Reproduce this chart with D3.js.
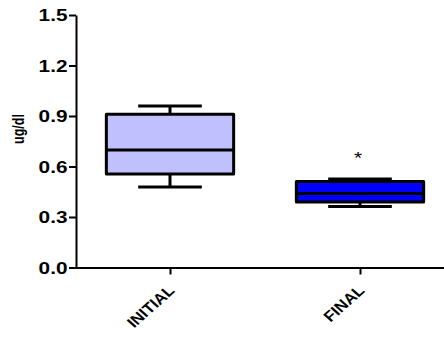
<!DOCTYPE html>
<html>
<head>
<meta charset="utf-8">
<script src="https://cdn.jsdelivr.net/npm/d3@7"></script>
<style>
  body { margin: 0; background: #fff; }
  svg { display: block; font-family: "Liberation Sans", Arial, sans-serif; }
</style>
</head>
<body>
<svg width="444" height="342"></svg>
<script>
// box plot values
var groups = ["INITIAL", "FINAL"];
var mins = [0.478, 0.362];
var q1s = [0.556, 0.389];
var medians = [0.698, 0.44];
var q3s = [0.91, 0.511];
var maxs = [0.96, 0.526];
var fills = ["#c0c0ff", "#0000ff"];
var yTicks = [0, 0.3, 0.6, 0.9, 1.2, 1.5];
var marks = [{ group: "FINAL", value: 0.68, text: "*" }];

// the picture is a bit wider than tall, so text is stretched sideways
var stretch = 1.3;
var labelStretch = 1.12;

var svg = d3.select("svg");

var x = d3.scalePoint()
    .domain(groups)
    .range([75, 455])
    .padding(0.5);

var y = d3.scaleLinear()
    .domain([0, 1.5])
    .range([267.5, 15]);

var boxW = x.step() * 0.67;
var capW = boxW / 2;

// y axis
var yAxis = svg.append("g")
    .attr("transform", "translate(76,0)")
    .call(d3.axisLeft(y).tickValues(yTicks).tickFormat(d3.format(".1f")).tickSize(7).tickSizeOuter(0));
yAxis.select(".domain").attr("stroke-width", 2);
yAxis.selectAll(".tick line").attr("stroke-width", 2);
yAxis.selectAll(".tick text")
    .attr("x", -8.5 / stretch)
    .attr("dy", "0.36em")
    .attr("transform", "scale(" + stretch + ",1)")
    .attr("font-size", 16)
    .attr("font-weight", "bold")
    .attr("fill", "#000");

svg.append("text")
    .attr("transform", "translate(24,129) scale(" + stretch + ",1) rotate(-90)")
    .attr("text-anchor", "middle")
    .attr("font-size", 12.5)
    .attr("font-weight", "bold")
    .text("ug/dl");

// x axis
var xAxis = svg.append("g")
    .attr("transform", "translate(0," + y(0) + ")")
    .call(d3.axisBottom(x).tickSize(7).tickSizeOuter(0));
xAxis.select(".domain").attr("stroke-width", 2);
xAxis.selectAll(".tick line").attr("stroke-width", 2);
xAxis.selectAll(".tick text")
    .attr("font-size", 15)
    .attr("font-weight", "bold")
    .attr("fill", "#000")
    .attr("text-anchor", "end")
    .attr("dy", 0)
    .attr("y", 0)
    .attr("transform", "translate(5,24) scale(" + labelStretch + ",1) rotate(-45)");

// boxes
var idx = d3.range(groups.length);
var box = svg.append("g").selectAll("g")
    .data(idx)
    .enter()
    .append("g");

box.append("line")
    .attr("x1", function(i) { return x(groups[i]); })
    .attr("x2", function(i) { return x(groups[i]); })
    .attr("y1", function(i) { return y(maxs[i]); })
    .attr("y2", function(i) { return y(mins[i]); })
    .attr("stroke", "#000")
    .attr("stroke-width", 3);

box.append("line")
    .attr("x1", function(i) { return x(groups[i]) - capW / 2; })
    .attr("x2", function(i) { return x(groups[i]) + capW / 2; })
    .attr("y1", function(i) { return y(maxs[i]); })
    .attr("y2", function(i) { return y(maxs[i]); })
    .attr("stroke", "#000")
    .attr("stroke-width", 3);

box.append("line")
    .attr("x1", function(i) { return x(groups[i]) - capW / 2; })
    .attr("x2", function(i) { return x(groups[i]) + capW / 2; })
    .attr("y1", function(i) { return y(mins[i]); })
    .attr("y2", function(i) { return y(mins[i]); })
    .attr("stroke", "#000")
    .attr("stroke-width", 3);

box.append("rect")
    .attr("x", function(i) { return x(groups[i]) - boxW / 2; })
    .attr("y", function(i) { return y(q3s[i]); })
    .attr("width", boxW)
    .attr("height", function(i) { return y(q1s[i]) - y(q3s[i]); })
    .attr("fill", function(i) { return fills[i]; })
    .attr("stroke", "#000")
    .attr("stroke-width", 3)
    .attr("stroke-linejoin", "round");

box.append("line")
    .attr("x1", function(i) { return x(groups[i]) - boxW / 2; })
    .attr("x2", function(i) { return x(groups[i]) + boxW / 2; })
    .attr("y1", function(i) { return y(medians[i]); })
    .attr("y2", function(i) { return y(medians[i]); })
    .attr("stroke", "#000")
    .attr("stroke-width", 3);

svg.append("g").selectAll("text")
    .data(marks)
    .enter()
    .append("text")
    .attr("transform", function(d) {
        return "translate(" + (x(d.group) - 2) + "," + (y(d.value) + 11) + ") scale(" + stretch + ",1)";
    })
    .attr("text-anchor", "middle")
    .attr("font-size", 16)
    .text(function(d) { return d.text; });
</script>
</body>
</html>
